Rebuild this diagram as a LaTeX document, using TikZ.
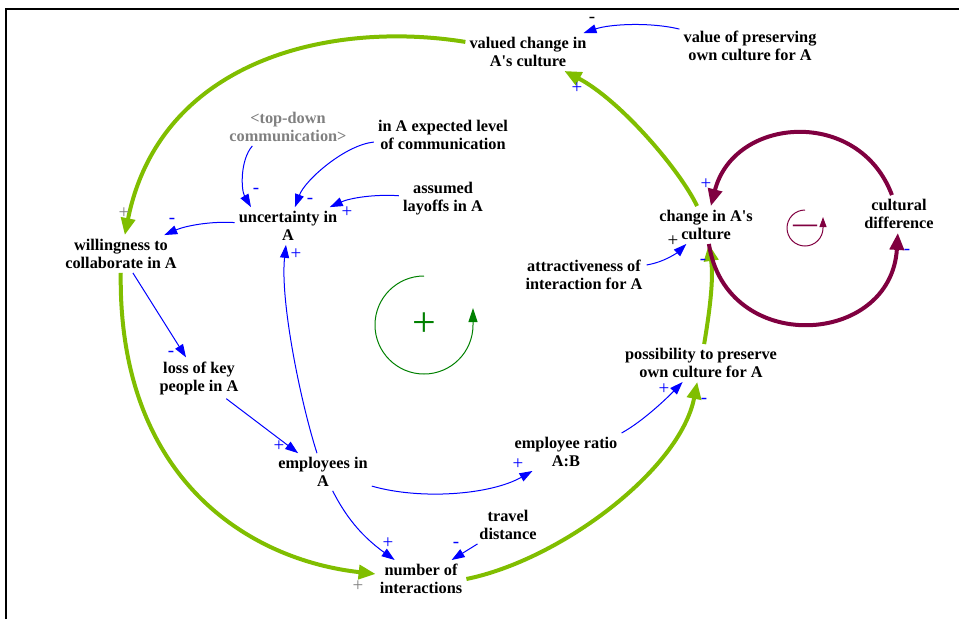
\documentclass[tikz,border=0pt]{standalone}
\usepackage{fontspec}
\setmainfont{Liberation Serif}
\usetikzlibrary{arrows.meta}
\definecolor{loopgreen}{RGB}{128,190,0}
\definecolor{wine}{RGB}{128,0,64}
\definecolor{linkblue}{RGB}{0,0,255}
\definecolor{markgray}{RGB}{128,128,128}
\definecolor{signgreen}{RGB}{0,128,0}
\newcommand{\aps}{\textquotesingle}
\begin{document}
\begin{tikzpicture}[x=1pt,y=-1pt,
  var/.style={align=center, font=\fontsize{16.3}{18}\selectfont\bfseries, inner sep=4pt},
  shadowvar/.style={var, text=markgray},
  link/.style={draw=linkblue, line width=1pt, -{Triangle[length=13pt,width=9pt]}},
  major/.style={draw=loopgreen, line width=4pt, -{Triangle[length=17pt,width=14pt]}},
  balance/.style={draw=wine, line width=4pt, -{Triangle[length=17pt,width=14pt]}},
  pol/.style={font=\fontsize{19}{19}\selectfont, text=linkblue, inner sep=0pt}]
\useasboundingbox (0,0) rectangle (959,619);

% frame
\draw[line width=2.5pt] (6,619) -- (6,9) -- (959,9);

% variables
\node[var] (val) at (528,52) {valued change in\\A\aps s culture};
\node[var] (pres) at (750,46) {value of preserving\\own culture for A};
\node[shadowvar] (tdc) at (288,127) {<top-down\\communication>};
\node[var] (exp) at (443,135) {in A expected level\\of communication};
\node[var] (lay) at (443,199) {assumed\\layoffs in A};
\node[var] (unc) at (288,226) {uncertainty in\\A};
\node[var] (will) at (121,254) {willingness to\\collaborate in A};
\node[var] (loss) at (199,378) {loss of key\\people in A};
\node[var] (emp) at (323,472) {employees in\\A};
\node[var] (ratio) at (566,452) {employee ratio\\A:B};
\node[var] (trav) at (508,525) {travel\\distance};
\node[var] (num) at (421,579) {number of\\interactions};
\node[var] (poss) at (701,363) {possibility to preserve\\own culture for A};
\node[var] (attr) at (584,275) {attractiveness of\\interaction for A};
\node[var] (chg) at (706,225) {change in A\aps s\\culture};
\node[var] (cd) at (899,214) {cultural\\difference};

% main reinforcing loop
\draw[major] (val) .. controls (330,20) and (160,60) .. (will);
\draw[major] (will) .. controls (118,480) and (250,560) .. (num);
\draw[major] (num.east) .. controls (560,560) and (680,470) .. (poss);
\draw[major] (poss) .. controls (709,315) and (714,280) .. (chg);
\draw[major] (chg) .. controls (680,170) and (620,100) .. (val);

% balancing loop
\draw[balance] (cd) .. controls (859,107) and (734,116) .. (chg);
\draw[balance] (chg) .. controls (726,356) and (891,347) .. (cd);

% causal links
\draw[link] (pres) .. controls (650,22) and (610,24) .. (val);
\draw[link] (tdc.-152) .. controls (240,160) and (241,190) .. (unc.153);
\draw[link] (exp) .. controls (345,145) and (305,180) .. (unc);
\draw[link] (lay) .. controls (375,194) and (350,198) .. (unc);
\draw[link] (unc) .. controls (210,221) and (185,226) .. (will);
\draw[link] (will) -- (loss);
\draw[link] (loss) -- (emp);
\draw[link] (emp) .. controls (300,400) and (280,300) .. (unc);
\draw[link] (emp) .. controls (420,500) and (490,495) .. (ratio);
\draw[link] (emp) .. controls (345,515) and (360,535) .. (num);
\draw[link] (trav) -- (num);
\draw[link] (ratio.north east) .. controls (645,420) and (670,395) .. (poss);
\draw[link] (attr) .. controls (665,262) and (678,252) .. (chg);

% loop identifiers
\draw[signgreen, line width=1pt, -{Triangle[length=14pt,width=9pt]}]
  (424,276) arc[start angle=90, end angle=360, radius=49pt] -- ++(0,-17);
\node[font=\fontsize{42}{42}\selectfont, text=signgreen, inner sep=0pt] (rsign) at (424,325) {+};
\draw[wine, line width=1pt, -{Triangle[length=10pt,width=7pt]}]
  (805,210) arc[start angle=90, end angle=360, radius=18pt] -- ++(0,-11);
\node[font=\fontsize{24}{24}\selectfont\bfseries, text=wine, inner sep=0pt] (bsign) at (805,228) {—};

% link polarities
\node[pol, text=black] (s1) at (592,20) {-};
\node[pol] (s2) at (577,88) {+};
\node[pol] (s3) at (256,191) {-};
\node[pol] (s4) at (310,201) {-};
\node[pol] (s5) at (347,212) {+};
\node[pol, text=markgray] (s6) at (124,213) {+};
\node[pol] (s7) at (172,221) {-};
\node[pol] (s8) at (296,254) {+};
\node[pol] (s9) at (171,354) {-};
\node[pol] (s10) at (279,446) {+};
\node[pol] (s11) at (518,464) {+};
\node[pol] (s12) at (388,543) {+};
\node[pol] (s13) at (456,545) {-};
\node[pol, text=markgray] (s14) at (358,586) {+};
\node[pol] (s15) at (706,184) {+};
\node[pol, text=black] (s16) at (673,241) {+};
\node[pol] (s17) at (703,262) {-};
\node[pol] (s18) at (664,389) {+};
\node[pol] (s19) at (704,401) {-};
\node[pol] (s20) at (907,252) {-};
\end{tikzpicture}
\end{document}
